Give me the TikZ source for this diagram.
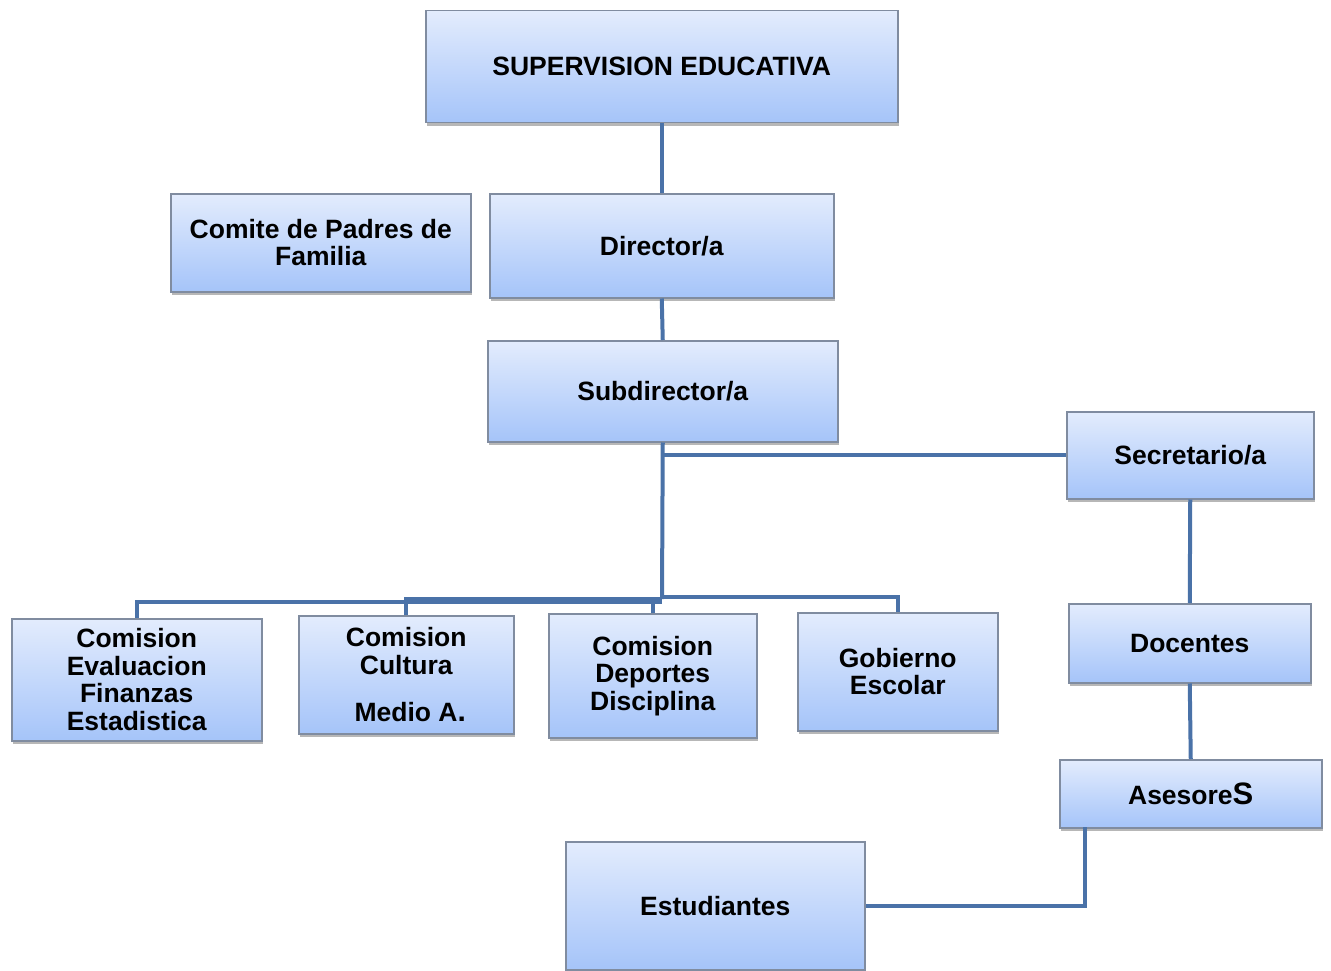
\documentclass[tikz,border=0pt]{standalone}
\usepackage{fontspec}
\setmainfont{Liberation Sans}
\usetikzlibrary{shadows}
\definecolor{topc}{RGB}{227,236,253}
\definecolor{botc}{RGB}{165,196,249}
\definecolor{edgec}{RGB}{128,140,160}
\definecolor{linec}{RGB}{74,114,168}
\tikzset{
  box/.style={rectangle, draw=edgec, line width=1.5pt, top color=topc, bottom color=botc,
    drop shadow={shadow xshift=1.5pt, shadow yshift=-3pt, opacity=0.4, fill=black!70},
    align=center, anchor=north west, inner sep=2pt,
    font=\fontsize{26.5}{27.5}\selectfont\bfseries},
  conn/.style={draw=linec, line width=4pt}
}
\newcommand{\mybox}[6]{\node[box, minimum width=#4pt, minimum height=#5pt] (#1) at (#2,#3) {#6};}
\begin{document}
\begin{tikzpicture}[x=1pt,y=-1pt]
\useasboundingbox (0,0) rectangle (1331,971);
\coordinate (hub) at (662,599);
\coordinate (ak) at (1085,827);
\mybox{sup}{425}{10}{472}{112}{SUPERVISION EDUCATIVA}
\mybox{com}{170}{193}{300}{98}{Comite de Padres de\\Familia}
\mybox{dir}{489}{193}{344}{104}{Director/a}
\mybox{sub}{487}{340}{350}{101}{Subdirector/a}
\mybox{sec}{1066}{411}{247}{87}{Secretario/a}
\mybox{ev}{11}{618}{250}{122}{Comision\\Evaluacion\\Finanzas\\Estadistica}
\mybox{cul}{298}{615}{215}{118}{Comision\\Cultura\\[20pt]\hspace*{8pt}Medio A{\fontsize{30}{30}\selectfont.}}
\mybox{dep}{548}{613}{208}{124}{Comision\\Deportes\\Disciplina}
\mybox{gob}{797}{612}{200}{118}{Gobierno\\Escolar}
\mybox{doc}{1068}{603}{242}{79}{Docentes}
\mybox{ase}{1059}{759}{262}{68}{Asesore{\fontsize{31}{31}\selectfont S}}
\mybox{est}{565}{841}{299}{128}{Estudiantes}
\draw[conn] (sup.south) -- (dir.north);
\draw[conn] (dir.south) -- (sub.north);
\draw[conn] (sub.south) -- (hub);
\draw[conn] (sub.south |- sec.west) -- (sec.west);
\draw[conn] (ev.north) |- ([yshift=-3pt]hub);
\draw[conn] (cul.north) |- (hub);
\draw[conn] (dep.north) |- (hub);
\draw[conn] (gob.north) |- ([yshift=2pt]hub);
\draw[conn] (sec.south) -- (doc.north);
\draw[conn] (doc.south) -- (ase.north);
\draw[conn] (ak) |- (est.east);
\end{tikzpicture}
\end{document}
